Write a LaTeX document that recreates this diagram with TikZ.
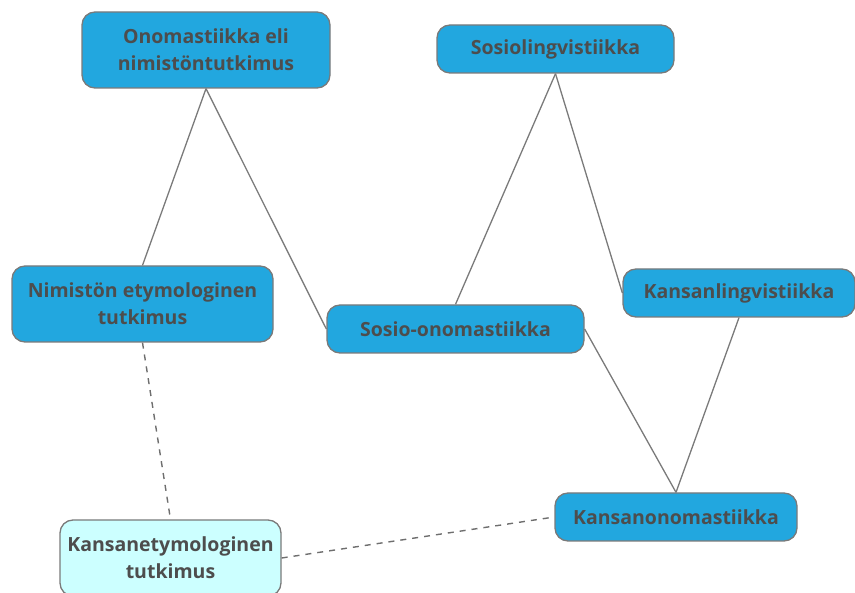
\documentclass[tikz,border=0pt]{standalone}
\usepackage{fontspec}
\setmainfont{Open Sans}[UprightFont=* Bold]
\definecolor{boxblue}{HTML}{22A7DF}
\definecolor{boxlight}{HTML}{CCFFFF}
\definecolor{edgegray}{HTML}{7A7A7A}
\definecolor{dashgray}{HTML}{6E6E6E}
\definecolor{txtgray}{HTML}{4D4D4D}
\tikzset{
  topic/.style={draw=edgegray, line width=1.3pt, fill=boxblue, rounded corners=13pt,
    text=txtgray, align=center, inner sep=0pt, font=\fontsize{19.5}{27}\selectfont},
  lighttopic/.style={topic, fill=boxlight},
  link/.style={draw=edgegray, line width=1.3pt},
  dlink/.style={draw=dashgray, line width=1.4pt, dash pattern=on 6pt off 6pt}
}
\begin{document}
\begin{tikzpicture}[x=1pt,y=-1pt]
\useasboundingbox (0,0) rectangle (855,593);
\node[topic, minimum width=248pt, minimum height=76pt] (ono) at (206,50) {Onomastiikka eli\\nimistöntutkimus};
\node[topic, minimum width=237pt, minimum height=48pt] (sosl) at (555.5,49) {Sosiolingvistiikka};
\node[topic, minimum width=261pt, minimum height=76pt] (nim) at (142.5,304) {Nimistön etymologinen\\tutkimus};
\node[topic, minimum width=257pt, minimum height=48pt] (soso) at (455.5,329) {Sosio-onomastiikka};
\node[topic, minimum width=232pt, minimum height=48pt] (kl) at (739,293) {Kansanlingvistiikka};
\node[topic, minimum width=242pt, minimum height=48pt] (ko) at (676,517) {Kansanonomastiikka};
\node[lighttopic, minimum width=221pt, minimum height=76pt] (ke) at (170.5,558) {Kansanetymologinen\\tutkimus};
\draw[link] (ono.south) -- (nim.north);
\draw[link] (ono.south) -- (soso.west);
\draw[link] (sosl.south) -- (soso.north);
\draw[link] (sosl.south) -- (kl.west);
\draw[link] (soso.east) -- (ko.north);
\draw[link] (kl.south) -- (ko.north);
\draw[dlink] (nim.south) -- (ke.north);
\draw[dlink] (ke.east) -- (ko.west);
\end{tikzpicture}
\end{document}
